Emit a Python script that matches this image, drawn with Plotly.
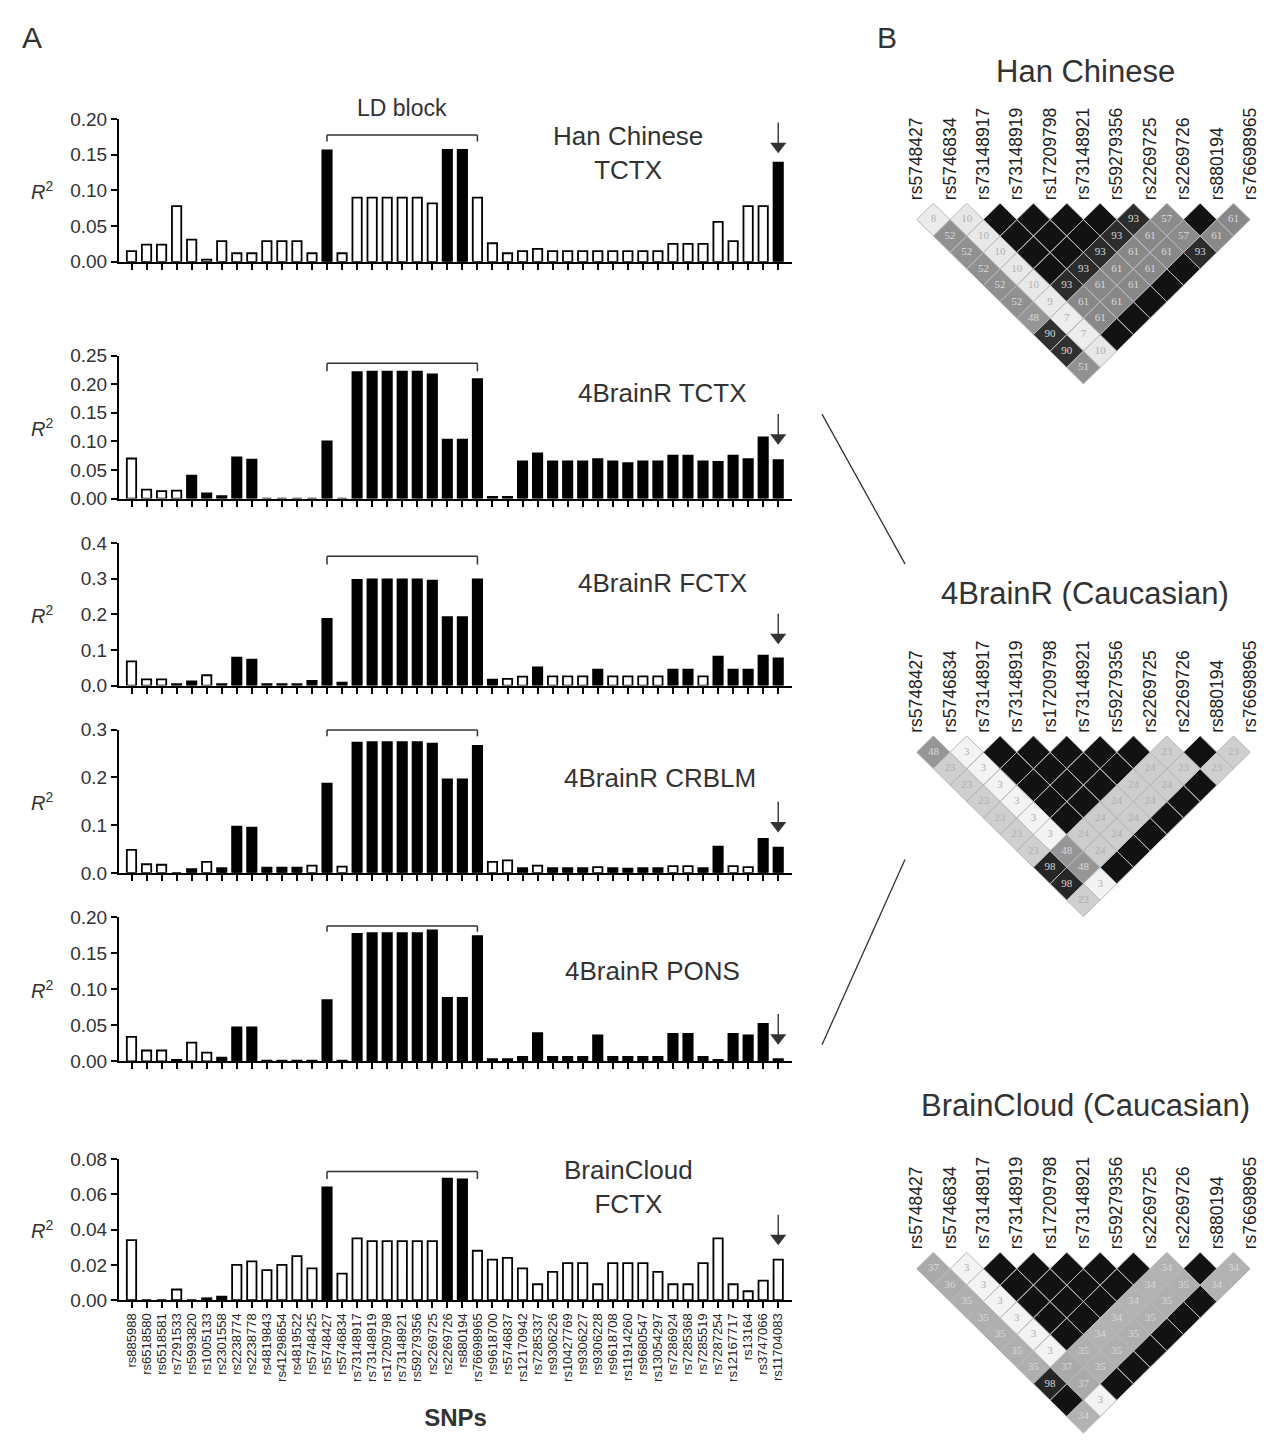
import plotly.graph_objects as go

W, H = 1288, 1453
FONT = "Liberation Sans, Arial, sans-serif"

# ---------------- data ----------------
snps = ["rs885988", "rs6518580", "rs6518581", "rs7291533", "rs5993820", "rs1005133",
        "rs2301558", "rs2238774", "rs2238778", "rs4819843", "rs41298654", "rs4819522",
        "rs5748425", "rs5748427", "rs5746834", "rs73148917", "rs73148919", "rs17209798",
        "rs73148921", "rs59279356", "rs2269725", "rs2269726", "rs880194", "rs76698965",
        "rs9618700", "rs5746837", "rs12170942", "rs7285337", "rs9306226", "rs10427769",
        "rs9306227", "rs9306228", "rs9618708", "rs11914260", "rs9680547", "rs13054297",
        "rs7286924", "rs7285368", "rs7285519", "rs7287254", "rs12167717", "rs13164",
        "rs3747066", "rs11704083"]

han_tctx = [0.015, 0.024, 0.024, 0.078, 0.031, 0.003, 0.029, 0.012, 0.012, 0.029, 0.029,
            0.029, 0.012, 0.156, 0.012, 0.090, 0.090, 0.090, 0.090, 0.090, 0.082, 0.157,
            0.157, 0.090, 0.026, 0.012, 0.015, 0.018, 0.015, 0.015, 0.015, 0.015, 0.015,
            0.015, 0.015, 0.015, 0.025, 0.025, 0.025, 0.056, 0.029, 0.078, 0.078, 0.139]
han_fill = [0, 0, 0, 0, 0, 0, 0, 0, 0, 0, 0, 0, 0, 1, 0, 0, 0, 0, 0, 0, 0, 1,
            1, 0, 0, 0, 0, 0, 0, 0, 0, 0, 0, 0, 0, 0, 0, 0, 0, 0, 0, 0, 0, 1]

brainr_tctx = [0.070, 0.0155, 0.013, 0.014, 0.040, 0.009, 0.004, 0.072, 0.068, 0, 0,
               0, 0, 0.100, 0, 0.221, 0.222, 0.222, 0.222, 0.222, 0.217, 0.103,
               0.103, 0.209, 0.003, 0.003, 0.065, 0.079, 0.065, 0.065, 0.065, 0.069, 0.065,
               0.062, 0.065, 0.065, 0.075, 0.075, 0.065, 0.064, 0.075, 0.069, 0.107, 0.067]
brainr_tctx_fill = [0, 0, 0, 0, 1, 1, 1, 1, 1, 1, 1, 1, 1, 1, 1, 1, 1, 1, 1, 1, 1, 1,
                    1, 1, 1, 1, 1, 1, 1, 1, 1, 1, 1, 1, 1, 1, 1, 1, 1, 1, 1, 1, 1, 1]

brainr_fctx = [0.068, 0.0175, 0.0175, 0.004, 0.012, 0.029, 0.004, 0.078, 0.073, 0.004, 0.004,
               0.004, 0.013, 0.187, 0.008, 0.296, 0.298, 0.298, 0.298, 0.298, 0.294, 0.192,
               0.192, 0.298, 0.017, 0.019, 0.025, 0.051, 0.026, 0.026, 0.026, 0.045, 0.026,
               0.026, 0.026, 0.026, 0.045, 0.045, 0.026, 0.081, 0.045, 0.045, 0.084, 0.076]
brainr_fctx_fill = [0, 0, 0, 1, 1, 0, 1, 1, 1, 1, 1, 1, 1, 1, 1, 1, 1, 1, 1, 1, 1, 1,
                    1, 1, 1, 0, 0, 1, 0, 0, 0, 1, 0, 0, 0, 0, 1, 1, 0, 1, 1, 1, 1, 1]

brainr_crblm = [0.048, 0.018, 0.017, 0, 0.008, 0.023, 0.010, 0.097, 0.095, 0.011, 0.011,
                0.011, 0.015, 0.187, 0.013, 0.273, 0.274, 0.274, 0.274, 0.274, 0.271, 0.196,
                0.196, 0.266, 0.023, 0.026, 0.010, 0.015, 0.010, 0.010, 0.010, 0.012, 0.010,
                0.009, 0.010, 0.010, 0.014, 0.014, 0.010, 0.055, 0.014, 0.012, 0.071, 0.053]
brainr_crblm_fill = [0, 0, 0, 0, 1, 0, 1, 1, 1, 1, 1, 1, 0, 1, 0, 1, 1, 1, 1, 1, 1, 1,
                     1, 1, 0, 0, 1, 0, 1, 1, 1, 0, 1, 1, 1, 1, 0, 0, 1, 1, 0, 0, 1, 1]

brainr_pons = [0.034, 0.015, 0.015, 0.002, 0.026, 0.012, 0.005, 0.047, 0.047, 0.001, 0.001,
               0.001, 0.001, 0.085, 0.001, 0.177, 0.178, 0.178, 0.178, 0.178, 0.182, 0.088,
               0.088, 0.174, 0.003, 0.003, 0.006, 0.039, 0.006, 0.006, 0.006, 0.036, 0.006,
               0.006, 0.006, 0.006, 0.038, 0.038, 0.006, 0.002, 0.038, 0.036, 0.052, 0.003]
brainr_pons_fill = [0, 0, 0, 1, 0, 0, 1, 1, 1, 1, 1, 1, 1, 1, 1, 1, 1, 1, 1, 1, 1, 1,
                    1, 1, 1, 1, 1, 1, 1, 1, 1, 1, 1, 1, 1, 1, 1, 1, 1, 1, 1, 1, 1, 1]

braincloud_fctx = [0.034, 0, 0, 0.006, 0, 0.001, 0.002, 0.020, 0.022, 0.017, 0.020,
                   0.025, 0.018, 0.064, 0.015, 0.035, 0.0335, 0.0335, 0.0335, 0.0335, 0.0335, 0.069,
                   0.0685, 0.028, 0.023, 0.024, 0.018, 0.009, 0.016, 0.021, 0.021, 0.009, 0.021,
                   0.021, 0.021, 0.016, 0.009, 0.009, 0.021, 0.035, 0.009, 0.005, 0.011, 0.023]
braincloud_fctx_fill = [0, 0, 0, 0, 0, 1, 1, 0, 0, 0, 0, 0, 0, 1, 0, 0, 0, 0, 0, 0, 0, 1,
                        1, 0, 0, 0, 0, 0, 0, 0, 0, 0, 0, 0, 0, 0, 0, 0, 0, 0, 0, 0, 0, 0]

ld_block_first, ld_block_last, ld_block_mid = "rs5748427", "rs76698965", "rs73148921"
marked_snp = "rs11704083"

ld_snps = ["rs5748427", "rs5746834", "rs73148917", "rs73148919", "rs17209798", "rs73148921",
           "rs59279356", "rs2269725", "rs2269726", "rs880194", "rs76698965"]
# r2 x100 by SNP distance (row 1 = adjacent pairs); 100 = complete LD (black, no number)
han_r2 = [[8, 10, 100, 100, 100, 100, 93, 57, 100, 61],
          [52, 10, 100, 100, 100, 93, 61, 57, 61],
          [52, 10, 100, 100, 93, 61, 61, 93],
          [52, 10, 100, 93, 61, 61, 100],
          [52, 10, 93, 61, 61, 100],
          [52, 9, 61, 61, 100],
          [48, 7, 61, 100],
          [90, 7, 100],
          [90, 10],
          [51]]
brainr_r2 = [[48, 3, 100, 100, 100, 100, 100, 23, 100, 23],
             [23, 3, 100, 100, 100, 100, 24, 23, 23],
             [23, 3, 100, 100, 100, 24, 24, 100],
             [23, 3, 100, 100, 24, 24, 100],
             [23, 3, 100, 24, 24, 100],
             [23, 3, 24, 24, 100],
             [23, 48, 24, 100],
             [98, 48, 100],
             [98, 3],
             [23]]
braincloud_r2 = [[37, 3, 100, 100, 100, 100, 100, 34, 100, 34],
                 [36, 3, 100, 100, 100, 100, 34, 35, 34],
                 [35, 3, 100, 100, 100, 34, 35, 100],
                 [35, 3, 100, 100, 34, 35, 100],
                 [35, 3, 100, 34, 35, 100],
                 [35, 3, 35, 35, 100],
                 [35, 37, 35, 100],
                 [98, 37, 100],
                 [100, 3],
                 [34]]

# ---------------- figure ----------------
fig = go.Figure()
annotations = []
shapes = []


def fy(p):
    return 1 - p / H


def fx(p):
    return p / W


def note(text, x, y, size, xref="paper", yref="paper", color="#333", **kw):
    annotations.append(dict(text=text, x=x, y=y, xref=xref, yref=yref, showarrow=False,
                            xanchor="center", yanchor="middle",
                            font=dict(family=FONT, size=size, color=color), **kw))


bar_panels = [
    dict(title="Han Chinese<br>TCTX", vals=han_tctx, fill=han_fill, top=110.7, zero=255.5,
         ymax=0.20, dtick=0.05, fmt=".2f", tx=628, tfrac=0.76, arrow=0.762, br=0.889, bre=0.843),
    dict(title="4BrainR TCTX", vals=brainr_tctx, fill=brainr_tctx_fill, top=350.7, zero=495.7,
         ymax=0.25, dtick=0.05, fmt=".2f", tx=662, tfrac=0.74, arrow=0.377, br=0.947, bre=0.89),
    dict(title="4BrainR FCTX", vals=brainr_fctx, fill=brainr_fctx_fill, top=540.7, zero=685.5,
         ymax=0.4, dtick=0.1, fmt=".1f", tx=662, tfrac=0.72, arrow=0.29, br=0.906, bre=0.848),
    dict(title="4BrainR CRBLM", vals=brainr_crblm, fill=brainr_crblm_fill, top=730.3, zero=875.5,
         ymax=0.3, dtick=0.1, fmt=".1f", tx=660, tfrac=0.66, arrow=0.283, br=0.998, bre=0.954),
    dict(title="4BrainR PONS", vals=brainr_pons, fill=brainr_pons_fill, top=920.7, zero=1066.7,
         ymax=0.20, dtick=0.05, fmt=".2f", tx=652, tfrac=0.63, arrow=0.116, br=0.941, bre=0.90),
    dict(title="BrainCloud<br>FCTX", vals=braincloud_fctx, fill=braincloud_fctx_fill, top=1166,
         zero=1309, ymax=0.08, dtick=0.02, fmt=".2f", tx=628, tfrac=0.80, arrow=0.389, br=0.912,
         bre=0.859),
]

X_LEFT, X_RIGHT = 119, 792
FIRST_C, STEP = 131.5, 15.04
xr = [(X_LEFT - FIRST_C) / STEP, (X_RIGHT - FIRST_C) / STEP]

for n, p in enumerate(bar_panels, start=1):
    sfx = "" if n == 1 else str(n)
    xa, ya = "x" + sfx, "y" + sfx
    dref = ya + " domain"
    last = n == len(bar_panels)
    ph = p["zero"] - p["top"]
    fig.add_trace(go.Bar(
        x=snps, y=p["vals"], xaxis=xa, yaxis=ya, width=0.62,
        marker=dict(color=["black" if f else "white" for f in p["fill"]],
                    line=dict(color="black", width=1.8)),
        showlegend=False, hoverinfo="x+y"))
    # arrow head over the marked SNP
    fig.add_trace(go.Scatter(
        x=[marked_snp], y=[(p["arrow"] + 7 / ph) * p["ymax"]], xaxis=xa, yaxis=ya,
        mode="markers", marker=dict(symbol="triangle-down", size=14, color="#333"),
        showlegend=False, hoverinfo="skip", cliponaxis=False))
    shapes.append(dict(type="line", xref=xa, yref=dref, x0=marked_snp, x1=marked_snp,
                       y0=p["arrow"] + 10 / ph, y1=p["arrow"] + 31 / ph,
                       line=dict(color="#333", width=1.4)))
    xaxis = dict(
        domain=[fx(X_LEFT), fx(X_RIGHT)], anchor=ya, type="category",
        categoryorder="array", categoryarray=snps, range=xr,
        tickmode="array", tickvals=snps, ticktext=snps,
        showline=True, linecolor="black", linewidth=2, ticks="outside", ticklen=6,
        tickwidth=1.5, tickcolor="black", showgrid=False, zeroline=False,
        showticklabels=last, tickangle=-90,
        tickfont=dict(family=FONT, size=13, color="#222"))
    if last:
        xaxis["title"] = dict(text="<b>SNPs</b>", font=dict(family=FONT, size=24, color="#333"),
                              standoff=28)
    fig.layout["xaxis" + sfx] = xaxis
    fig.layout["yaxis" + sfx] = dict(
        domain=[fy(p["zero"]), fy(p["top"])], anchor=xa, range=[0, p["ymax"]],
        dtick=p["dtick"], tickformat=p["fmt"], showline=True, linecolor="black", linewidth=2,
        ticks="outside", ticklen=6, tickwidth=1.5, tickcolor="black", showgrid=False,
        zeroline=False, tickfont=dict(family=FONT, size=19, color="#333"))
    note("<i>R</i><sup>2</sup>", fx(42), 0.5, 20, yref=dref)
    note(p["title"], fx(p["tx"]), p["tfrac"], 26, yref=dref)
    for x0, x1, y0, y1 in [(ld_block_first, ld_block_last, p["br"], p["br"]),
                           (ld_block_first, ld_block_first, p["bre"], p["br"]),
                           (ld_block_last, ld_block_last, p["bre"], p["br"])]:
        shapes.append(dict(type="line", xref=xa, yref=dref, x0=x0, x1=x1, y0=y0, y1=y1,
                           line=dict(color="#333", width=1.5)))
    if n == 1:
        note("LD block", ld_block_mid, 1.08, 23, xref=xa, yref=dref)


# ---------------- LD heat maps ----------------
def shade(v):
    stops = [(0, 255), (3, 243), (10, 232), (24, 205), (36, 172), (50, 146), (61, 136),
             (90, 48), (98, 38), (100, 18)]
    g = 255
    for (a, ga), (b, gb) in zip(stops[:-1], stops[1:]):
        if a <= v <= b:
            g = ga + (gb - ga) * (v - a) / (b - a)
            break
    g = int(round(g))
    return f"rgb({g},{g},{g})"


UNIT = 33.35
LD_X0 = 916.7
HX0, HX1 = 880, 1288
YMAX = 5.65
ld_panels = [
    dict(title="Han Chinese", mat=han_r2, top=196.0, ty=62),
    dict(title="4BrainR (Caucasian)", mat=brainr_r2, top=736.5, ty=592),
    dict(title="BrainCloud (Caucasian)", mat=braincloud_r2, top=1260.5, ty=1112),
]
for k, p in enumerate(ld_panels):
    n = 7 + k
    xa, ya = f"x{n}", f"y{n}"
    groups = {}
    tx, tyv, tt, tc = [], [], [], []
    for d, row in enumerate(p["mat"], start=1):
        for i, v in enumerate(row):
            j = i + d
            cx, cy = (i + j) / 2, d / 2
            col = shade(v)
            gx, gy = groups.setdefault(col, ([], []))
            gx += [cx - 0.5, cx, cx + 0.5, cx, cx - 0.5, None]
            gy += [cy, cy - 0.5, cy, cy + 0.5, cy, None]
            if v < 100:
                tx.append(cx)
                tyv.append(cy)
                tt.append(str(v))
                tc.append("#b0b0b0" if v < 30 else "#d8d8d8")
    for col, (gx, gy) in groups.items():
        fig.add_trace(go.Scatter(x=gx, y=gy, xaxis=xa, yaxis=ya, mode="lines", fill="toself",
                                 fillcolor=col, line=dict(color="#b8b8b8", width=1),
                                 hoverinfo="skip", showlegend=False))
    fig.add_trace(go.Scatter(x=tx, y=tyv, xaxis=xa, yaxis=ya, mode="text", text=tt,
                             textfont=dict(family="Liberation Serif, serif", size=11, color=tc),
                             hoverinfo="skip", showlegend=False))
    fig.layout[f"xaxis{n}"] = dict(
        domain=[fx(HX0), fx(HX1)], anchor=ya,
        range=[(HX0 - LD_X0) / UNIT, (HX1 - LD_X0) / UNIT],
        side="top", tickvals=list(range(len(ld_snps))), ticktext=ld_snps, tickangle=-90,
        tickfont=dict(family=FONT, size=17.5, color="#222"), ticks="", showline=False,
        showgrid=False, zeroline=False, ticklabelstandoff=2)
    fig.layout[f"yaxis{n}"] = dict(
        domain=[fy(p["top"] + YMAX * UNIT), fy(p["top"])], anchor=xa, range=[YMAX, 0],
        visible=False, showgrid=False, zeroline=False)
    note(p["title"], fx(1085), fy(p["ty"]), 31)

# connector lines between panel A (4BrainR) and panel B (4BrainR heat map)
for (x0, y0, x1, y1) in [(822, 410, 905, 562), (905, 862, 822, 1050)]:
    shapes.append(dict(type="line", xref="paper", yref="paper", x0=fx(x0), y0=fy(y0),
                       x1=fx(x1), y1=fy(y1), line=dict(color="#333", width=1.3)))

note("A", fx(32), fy(28), 30)
note("B", fx(887), fy(28), 30)

fig.update_layout(width=W, height=H, autosize=False, margin=dict(l=0, r=0, t=0, b=0),
                  paper_bgcolor="white", plot_bgcolor="white",
                  annotations=annotations, shapes=shapes, font=dict(family=FONT))

fig.write_html("out.html", config={"displayModeBar": False},
               post_script="document.body.style.margin='0px';")
